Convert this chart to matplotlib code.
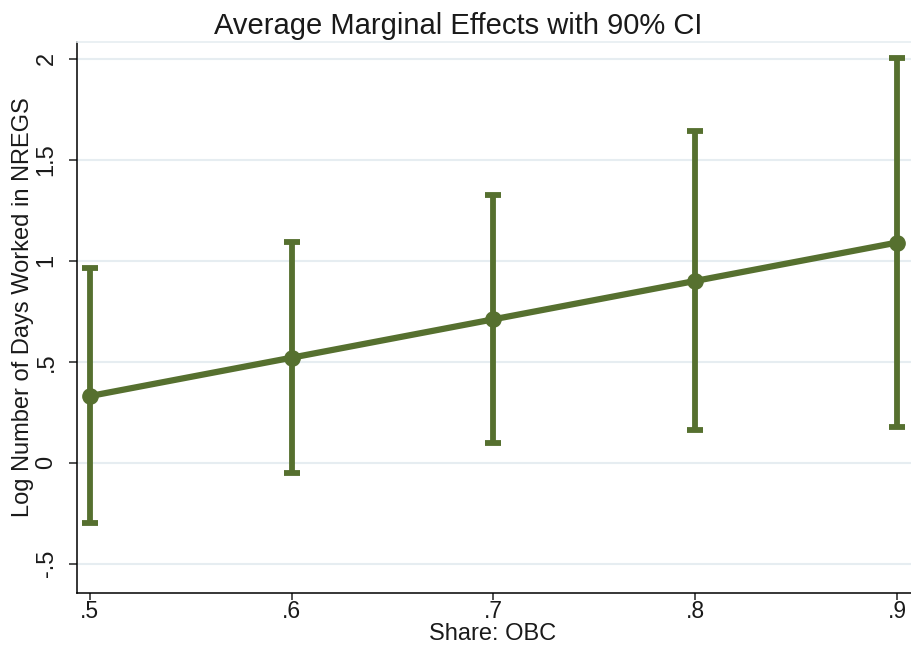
import matplotlib
matplotlib.use("Agg")
from matplotlib import pyplot as plt

share = [0.5, 0.6, 0.7, 0.8, 0.9]
margin = [0.33, 0.52, 0.71, 0.90, 1.09]
ci_low = [-0.30, -0.05, 0.10, 0.16, 0.175]
ci_high = [0.965, 1.095, 1.325, 1.64, 2.005]

xticks = [0.5, 0.6, 0.7, 0.8, 0.9]
xticklabels = [".5", ".6", ".7", ".8", ".9"]
yticks = [-0.5, 0, 0.5, 1, 1.5, 2]
yticklabels = ["-.5", "0", ".5", "1", "1.5", "2"]

green = "#56702f"
grid_col = "#e6edf1"
txt_col = "#1a1a1a"

plt.rcParams["font.family"] = ["Liberation Sans", "DejaVu Sans"]

fig = plt.figure(figsize=(9.12, 6.49), dpi=100)
ax = fig.add_axes([0.0844, 0.0863, 0.9156, 0.849])

err_lo = [m - l for m, l in zip(margin, ci_low)]
err_hi = [h - m for m, h in zip(margin, ci_high)]

ax.errorbar(share, margin, yerr=[err_lo, err_hi], fmt="none", ecolor=green,
            elinewidth=4.2, capsize=5.5, capthick=4.2, zorder=3)
ax.plot(share, margin, color=green, linewidth=4.5, marker="o", markersize=11,
        zorder=4)

ax.set_xlim(0.4936, 0.9074)
ax.set_ylim(-0.645, 2.083)

ax.set_xticks(xticks)
ax.set_xticklabels(xticklabels, fontsize=16.5, color=txt_col)
ax.set_yticks(yticks)
ax.set_yticklabels(yticklabels, fontsize=17, rotation=90, va="center", color=txt_col)
ax.tick_params(axis="x", direction="out", length=5, width=1.1, pad=0, color="#222222")
ax.tick_params(axis="y", direction="out", length=6, width=1.1, pad=8, color="#222222")

ax.grid(True, axis="y", color=grid_col, linewidth=1.5, zorder=0)
ax.set_axisbelow(True)

ax.spines["right"].set_visible(False)
ax.spines["top"].set_color(grid_col)
ax.spines["top"].set_linewidth(1.2)
ax.spines["left"].set_linewidth(1.1)
ax.spines["bottom"].set_linewidth(1.1)

ax.set_title("Average Marginal Effects with 90% CI", fontsize=21, pad=6,
             x=0.457, color=txt_col)
ax.set_xlabel("Share: OBC", fontsize=17, color=txt_col, va="bottom")
ax.xaxis.set_label_coords(0.4976, -0.0945)
ax.set_ylabel("Log Number of Days Worked in NREGS", fontsize=17, color=txt_col)
ax.yaxis.set_label_coords(-0.0515, 0.518)

fig.savefig("out.png", dpi=100)
